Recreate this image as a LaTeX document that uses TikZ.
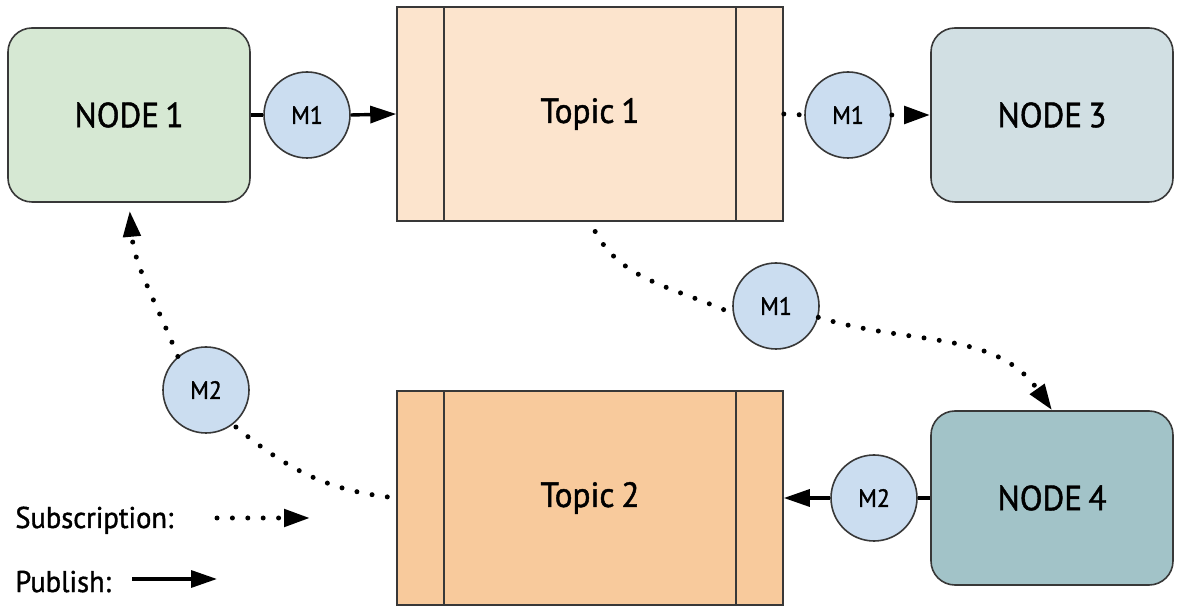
\documentclass[tikz,border=0pt]{standalone}
\usepackage{fontspec}
\setmainfont{PT Sans}[FakeBold=1.2, FakeStretch=0.95]
\usetikzlibrary{arrows.meta,calc}

\definecolor{edge}{HTML}{383838}
\definecolor{nodegreen}{HTML}{D6E8D3}
\definecolor{nodepale}{HTML}{D1DFE3}
\definecolor{nodeteal}{HTML}{A2C3C8}
\definecolor{topiclight}{HTML}{FCE4CD}
\definecolor{topicdark}{HTML}{F8CA9C}
\definecolor{msgfill}{HTML}{CBDDF0}

\begin{document}
\begin{tikzpicture}[x=0.5pt,y=0.5pt,
  box/.style={draw=edge, line width=0.8pt, rounded corners=12pt,
    minimum width=121pt, minimum height=87pt, inner sep=0pt,
    font=\fontsize{17.5}{20}\selectfont},
  topic/.style={draw=edge, line width=0.8pt,
    minimum width=193pt, minimum height=107pt, inner sep=0pt,
    font=\fontsize{17.5}{20}\selectfont},
  msg/.style={circle, draw=edge, line width=0.8pt, fill=msgfill,
    minimum size=43pt, inner sep=0pt, font=\fontsize{12.5}{13}\selectfont},
  tip/.style={-{Triangle[length=13pt,width=8.5pt]}},
  link/.style={line width=1.7pt},
  pub/.style={link, tip},
  dots/.style={line width=2.5pt, dash pattern=on 0pt off 7.7pt, line cap=round},
  sub/.style={dots, tip},
  legend/.style={font=\fontsize{15}{17}\selectfont, inner sep=0pt},
]
\useasboundingbox (0,0) rectangle (1177,610);

% nodes and topics
\node[box, fill=nodegreen] (n1) at (129,495) {NODE\kern0.18em 1};
\node[box, fill=nodepale]  (n3) at (1052,495) {NODE\kern0.18em 3};
\node[box, fill=nodeteal]  (n4) at (1052,112) {NODE\kern0.18em 4};
\node[topic, fill=topiclight] (t1) at (590,496) {Topic\kern0.2em 1};
\node[topic, fill=topicdark]  (t2) at (590,112) {Topic\kern0.2em 2};

% inner bars of the topic queues
\foreach \t in {t1,t2}{
  \draw[edge, line width=0.8pt] ([xshift=24pt]\t.north west) -- ([xshift=24pt]\t.south west);
  \draw[edge, line width=0.8pt] ([xshift=-24pt]\t.north east) -- ([xshift=-24pt]\t.south east);
}

% messages
\node[msg] (ma) at (307,495) {M1};
\node[msg] (mb) at (848,495) {M1};
\node[msg] (mc) at (776,304) {M1};
\node[msg] (md) at (874,112) {M2};
\node[msg] (me) at (206,220) {M2};

% publish: NODE 1 -> Topic 1
\draw[link] (n1.east) -- (ma.west);
\draw[pub] (ma.east) -- (t1.west);

% subscription: Topic 1 -> NODE 3
\draw[dots] (t1.east) -- (mb.west);
\draw[sub] (mb.east) -- (n3.west);

% subscription: Topic 1 -> NODE 4
\draw[dots, shorten <=5.5pt] (t1.south) to[out=-62, in=156] (mc.190);
\draw[sub] (mc.-15) to[out=-17, in=125] (n4.north);

% publish: NODE 4 -> Topic 2
\draw[link] (n4.west) -- (md.east);
\draw[pub] (md.west) -- (t2.east);

% subscription: Topic 2 -> NODE 1
\draw[dots, shorten <=4.5pt] (t2.west) to[out=173, in=-40] (me.-52);
\draw[sub, shorten >=4pt] (me.130) to[out=112, in=-85] (n1.south);

% legend
\node[legend, anchor=base west] (lsub) at (15,82) {Subscription:};
\node[legend, anchor=base west] (lpub) at (15,18) {Publish:};
\coordinate (s0) at (217,92);
\coordinate (s1) at (310,92);
\coordinate (p0) at (132,31);
\coordinate (p1) at (217,31);
\draw[sub] (s0) -- (s1);
\draw[pub] (p0) -- (p1);
\end{tikzpicture}
\end{document}
